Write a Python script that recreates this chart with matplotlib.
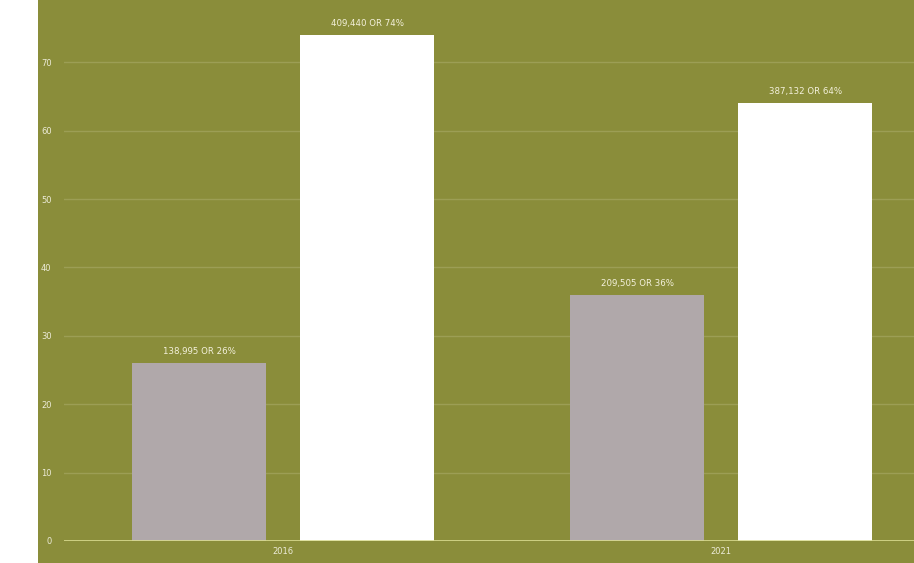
import numpy as np
import matplotlib.pyplot as plt

years = ['2016', '2021']
grey_vals = [26, 36]
white_vals = [74, 64]
grey_labels = ['138,995 OR 26%', '209,505 OR 36%']
white_labels = ['409,440 OR 74%', '387,132 OR 64%']

olive = '#8A8D3A'
fig = plt.figure(figsize=(9.14, 5.63), dpi=100, facecolor='white')
# olive backdrop, leaving the white strip on the left
bg = fig.add_axes([38 / 914, 0, 1 - 38 / 914, 1], zorder=-5)
bg.set_facecolor(olive)
bg.set_xticks([])
bg.set_yticks([])
for s in bg.spines.values():
    s.set_visible(False)

ax = fig.add_axes([64 / 914, 22 / 563, 1 - 64 / 914, 1 - 22 / 563])
ax.set_facecolor('none')

x = np.arange(len(years))
w = 0.306
off = 0.192
gb = ax.bar(x - off, grey_vals, w, color='#B0A8AA', zorder=3)
wb = ax.bar(x + off, white_vals, w, color='white', zorder=3)

for bars, labels in ((gb, grey_labels), (wb, white_labels)):
    for b, lab in zip(bars, labels):
        ax.text(b.get_x() + b.get_width() / 2, b.get_height() + 1.0, lab,
                ha='center', va='bottom', fontsize=6.2, color='#F4F1DC', zorder=4)

ax.set_xlim(-0.5, 1.44)
ax.set_ylim(0, 79.1)
ax.set_yticks(range(0, 80, 10))
ax.set_xticks(x)
ax.set_xticklabels(years)
ax.tick_params(axis='both', length=0, labelsize=6, labelcolor='#ECEBD8')
ax.tick_params(axis='y', pad=9)
ax.tick_params(axis='x', pad=4)
ax.grid(axis='y', color='#9C9E55', linewidth=1.0, zorder=1)
ax.axhline(0, color='#D9DB8F', linewidth=1.2, zorder=4)
for s in ax.spines.values():
    s.set_visible(False)

fig.savefig('out.png', dpi=100, facecolor=fig.get_facecolor())
